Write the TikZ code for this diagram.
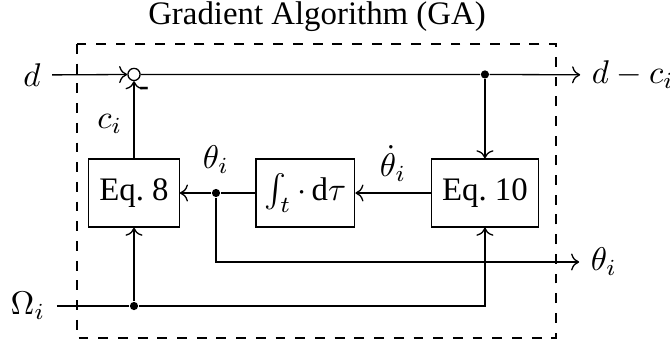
\documentclass[tikz,border=0pt]{standalone}
\usepackage{fontspec}
\setmainfont{Liberation Serif}
\usepackage{amsmath}
\usetikzlibrary{arrows.meta, positioning, calc}

\tikzset{
  block/.style={draw, rectangle, minimum height=20.7pt, inner xsep=3.2pt},
  sumnode/.style={draw, circle, inner sep=0pt, minimum size=3.7pt},
  junction/.style={circle, fill, inner sep=0pt, minimum size=2.5pt},
}

\begin{document}
\begin{tikzpicture}[x=0.3045pt, y=-0.3045pt, >=To, node distance=23pt]
\useasboundingbox (0,0) rectangle (670,347);

% Boxes
\node[block] (eq8) at (134,193) {Eq.~8};
\node[block, minimum width=29.8pt, inner xsep=2.6pt, right=of eq8] (integ) {$\int_t{\cdot}\,\mathrm{d}\tau$};
\node[block, right=of integ] (eq10) {Eq.~10};
\node[sumnode, above=23.5pt of eq8] (sum) {};

% Frame and title
\draw[semithick, dashed] (77,44) rectangle (556,338);
\node (title) at (317,17) {Gradient Algorithm (GA)};

% In- and outputs
\node (din) at (32,75) {$d$};
\node (dout) at (633,75) {$d-c_i$};
\node (thout) at (604,262) {$\theta_i$};
\node (omin) at (28,306) {$\Omega_i$};
\node[junction] (split) at (eq10 |- sum) {};
\node[junction] (thsplit) at (216,193) {};
\node[junction] (omsplit) at (eq8 |- omin) {};
\coordinate (thcorner) at (thsplit |- thout);

% Edges
\draw[->] (din) -- (sum);
\draw[->] (sum) -- (split) -- (dout);
\draw[->] (split) -- (eq10);
\draw[->] (eq10) -- node[above] {$\dot\theta_i$} (integ);
\draw (integ) -- (thsplit);
\draw[->] (thsplit) -- (eq8);
\draw[->] (thsplit) -- (thcorner) -- (thout);
\draw[->] (eq8) -- node[left, pos=0.45] {$c_i$} (sum);
\draw (omin) -- (omsplit) -| (eq10);
\draw[->] (omsplit) -- (eq8);
\draw[->] (eq10 |- omin) -- (eq10);

% Labels
\node[above=1pt of thsplit] {$\theta_i$};
\node[inner sep=0pt] (minus) at ($(sum)+(10,17)$) {\small\textbf{-}};

\end{tikzpicture}
\end{document}
